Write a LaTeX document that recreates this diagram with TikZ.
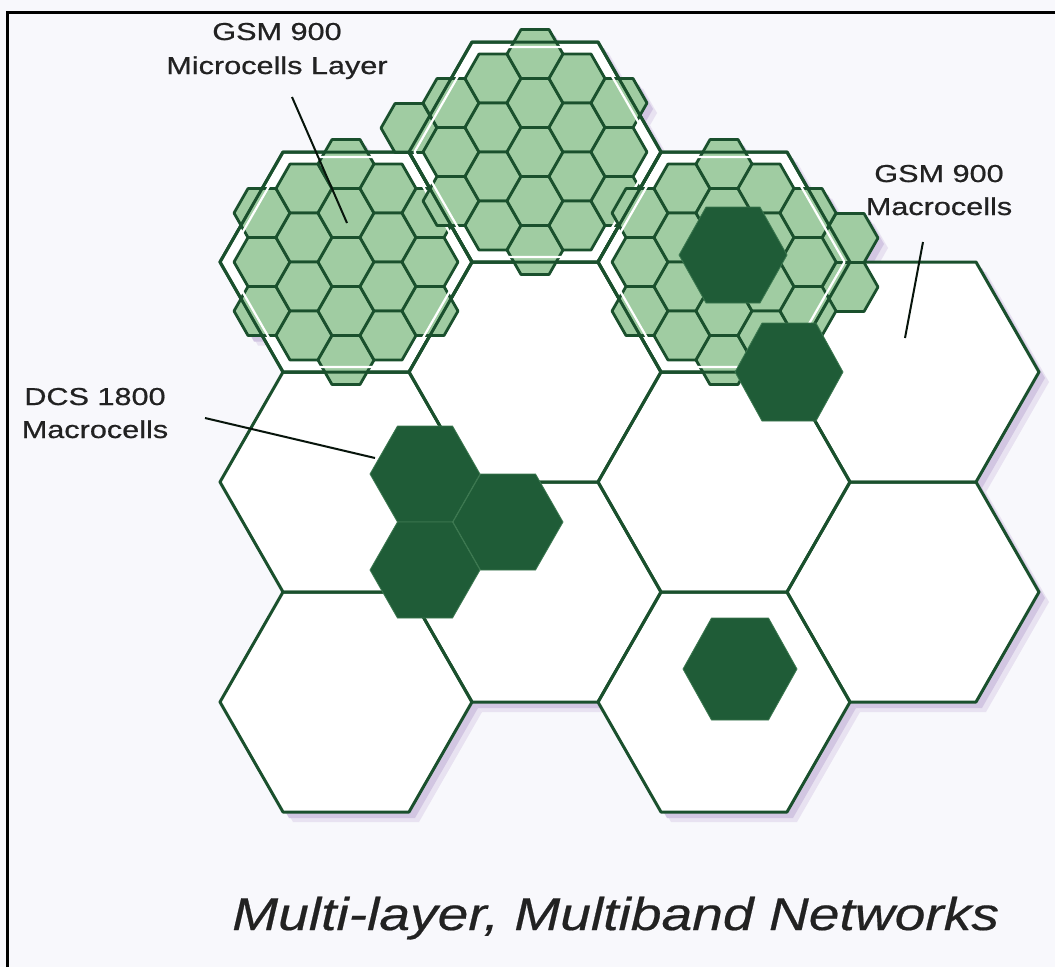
\documentclass[tikz,border=0pt]{standalone}
\usepackage{fontspec}
\setmainfont{Liberation Sans}
\definecolor{lineg}{RGB}{26,80,45}
\definecolor{darkg}{RGB}{31,92,55}
\definecolor{darkgline}{RGB}{60,120,80}
\definecolor{microg}{RGB}{160,204,162}
\definecolor{shadowA}{RGB}{210,198,226}
\definecolor{shadowB}{RGB}{232,226,241}
\definecolor{bgc}{RGB}{248,248,252}
\definecolor{txt}{RGB}{34,34,34}
\newcommand\hexp[4]{(#1+#3,#2) -- (#1+0.5*#3,#2+#4) -- (#1-0.5*#3,#2+#4) -- (#1-#3,#2) -- (#1-0.5*#3,#2-#4) -- (#1+0.5*#3,#2-#4) -- cycle}
\newcommand\wide[1]{\scalebox{1.25}[1]{#1}}
% #1 cx, #2 cy, #3 style
\newcommand\microcluster[3]{%
  \foreach \i in {-2,...,2}{%
    \foreach \j in {-3,...,3}{%
      \pgfmathsetmacro\mdx{\i*42}%
      \pgfmathsetmacro\mdy{(\j+0.5*mod(abs(\i),2))*49}%
      \pgfmathtruncatemacro\ok{(abs(\mdy)<=108)&&(abs(\mdx)/126+abs(\mdy)/220<=1.05)}%
      \ifnum\ok=1
        \path[#3] \hexp{#1+\mdx}{#2+\mdy}{28}{24.5};
      \fi
    }%
  }%
}
\def\macros{346/262, 346/482, 346/702, 535/152, 535/372, 535/592, 724/262, 724/482, 724/702, 913/372, 913/592}
\def\clusters{346/262, 535/152, 724/262}
% extra micro cells sticking out of the clusters
\def\extras{409/128, 850/238, 850/287}
\begin{document}
\begin{tikzpicture}[x=1pt,y=-1pt,
  macro/.style={draw=lineg,line width=3pt,line join=round},
  gap/.style={draw=white,line width=2.2pt,line join=round},
  micro/.style={fill=microg,draw=lineg,line width=2.8pt,line join=round},
  dcs/.style={fill=darkg,draw=darkgline,line width=0.8pt,line join=round},
  leader/.style={draw=black!75!lineg,line width=2pt},
  lbl/.style={text=txt,align=center,inner sep=0pt,font=\fontsize{24.5}{33}\selectfont\addfontfeature{FakeBold=0.6}}]
\fill[bgc] (0,0) rectangle (1055,967);
\useasboundingbox (0,0) rectangle (1055,967);
% frame
\draw[black,line width=3pt] (7,967) -- (7,12) -- (1055,12);
% shadows
\foreach \x/\y in \macros { \fill[shadowB] \hexp{\x+10}{\y+10}{126}{110}; }
\foreach \x/\y in \clusters { \microcluster{\x+10}{\y+10}{fill=shadowB} }
\foreach \x/\y in \extras { \fill[shadowB] \hexp{\x+10}{\y+10}{28}{24.5}; }
\foreach \x/\y in \macros { \fill[shadowA] \hexp{\x+6}{\y+6}{126}{110}; }
\foreach \x/\y in \clusters { \microcluster{\x+6}{\y+6}{fill=shadowA} }
\foreach \x/\y in \extras { \fill[shadowA] \hexp{\x+6}{\y+6}{28}{24.5}; }
% macro cells
\foreach \x/\y in \macros { \fill[white] \hexp{\x}{\y}{126}{110}; }
\foreach \x/\y in \macros { \path[macro] \hexp{\x}{\y}{126}{110}; }
% micro clusters (GSM 900 microcell layer)
\foreach \x/\y in \extras { \path[micro] \hexp{\x}{\y}{28}{24.5}; }
\foreach \x/\y in \clusters {
  \microcluster{\x}{\y}{micro}
  \path[gap] \hexp{\x}{\y}{120.5}{105};
  \path[macro] \hexp{\x}{\y}{126}{110};
}
% DCS 1800 cells
\path[dcs] \hexp{733}{255}{54}{48};
\path[dcs] \hexp{789}{372}{54}{49};
\path[dcs] \hexp{425}{474}{55}{48};
\path[dcs] \hexp{425}{570}{55}{48};
\path[dcs] \hexp{508}{522}{55}{48};
\path[dcs] \hexp{740}{669}{57}{51};
% labels
\node[lbl,anchor=base] (lmicro1) at (277,40) {\wide{GSM 900}};
\node[lbl,anchor=base] (lmicro2) at (277,74) {\wide{Microcells Layer}};
\node[lbl,anchor=base] (lmacro1) at (939,182) {\wide{GSM 900}};
\node[lbl,anchor=base] (lmacro2) at (939,215) {\wide{Macrocells}};
\node[lbl,anchor=base] (ldcs1) at (95,405) {\wide{DCS 1800}};
\node[lbl,anchor=base] (ldcs2) at (95,438) {\wide{Macrocells}};
\node[text=txt,inner sep=0pt,anchor=base west,font=\fontsize{46}{50}\selectfont\itshape\addfontfeature{FakeBold=0.4}] (title) at (232,930) {\scalebox{1.2}[1]{Multi-layer, Multiband Networks}};
% leaders
\coordinate (m1) at (292,97);  \coordinate (m2) at (347,223);
\coordinate (g1) at (923,242); \coordinate (g2) at (905,338);
\coordinate (d1) at (205,418); \coordinate (d2) at (375,458);
\draw[leader] (m1) -- (m2);
\draw[leader] (g1) -- (g2);
\draw[leader] (d1) -- (d2);
\end{tikzpicture}
\end{document}
